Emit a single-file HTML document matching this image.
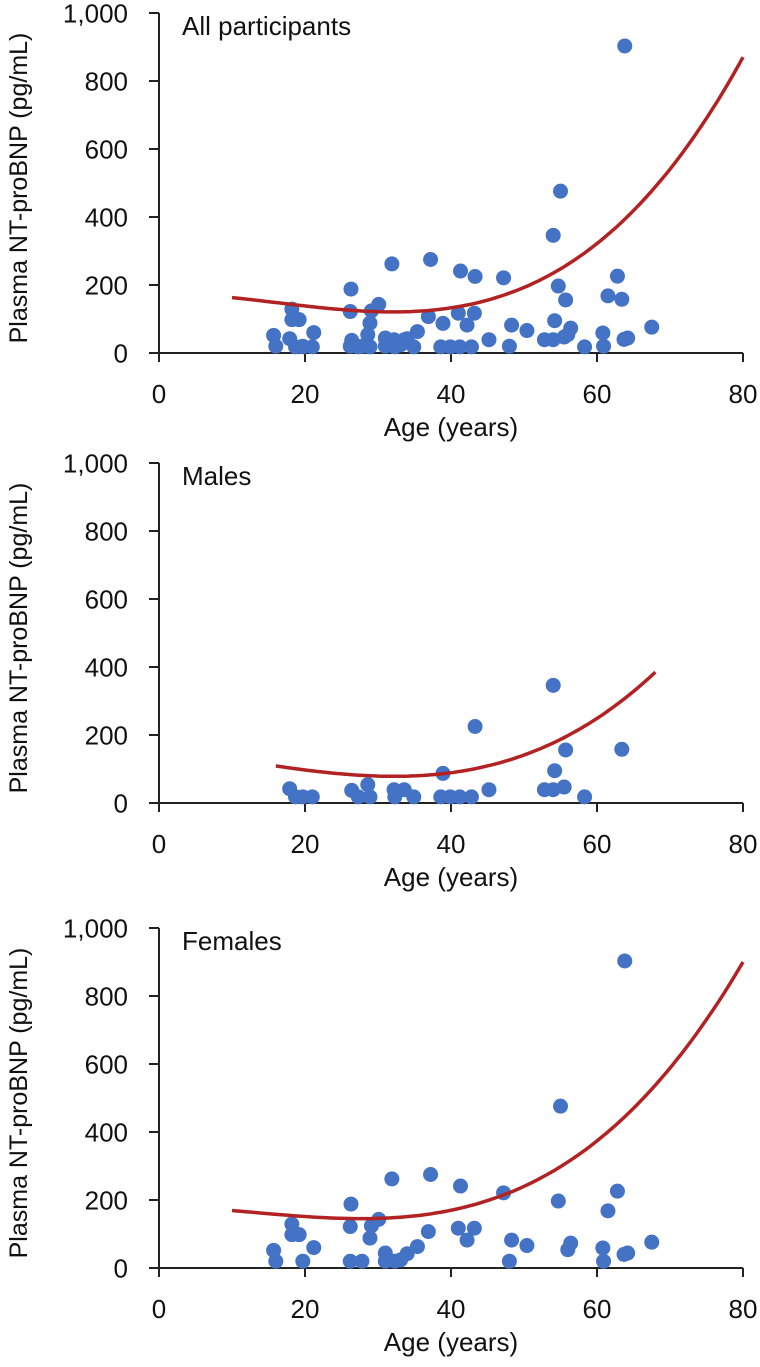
<!DOCTYPE html>
<html><head><meta charset="utf-8"><style>
body{margin:0;background:#fff;}
svg{display:block;font-family:"Liberation Sans",sans-serif;}
</style></head><body>
<svg id="chart" width="760" height="1367"></svg>
<script>
const yTicks=[0,200,400,600,800,1000];
const yTickLabels=["0","200","400","600","800","1,000"];
const xTicks=[0,20,40,60,80];
const maleAges=[17.9,18.7,19.7,21.0,26.4,27.3,28.6,28.9,32.2,32.3,33.6,34.9,38.9,38.6,39.9,41.2,42.8,45.2,52.8,54.0,54.0,54.2,55.5,55.7,58.3,63.4,43.3];
const maleVals=[42,18,18,18,37,18,54,18,39,18,39,18,87,18,18,18,18,39,39,39,346,95,47,156,18,158,225];
const femaleAges=[15.7,16.0,18.2,18.2,19.2,21.2,19.7,26.3,26.2,26.2,27.8,31.9,29.1,30.1,28.9,31.0,31.0,32.3,33.1,34.0,35.4,36.9,37.2,41.3,41.0,43.2,42.2,47.2,48.3,48.0,50.4,55.0,54.7,56.4,56.0,60.8,60.9,61.5,62.8,63.7,64.2,63.8,67.5];
const femaleVals=[52,20,129,98,98,60,20,188,122,20,20,262,124,143,88,44,20,20,24,42,63,107,275,241,117,117,82,221,82,20,66,476,197,73,54,59,20,168,226,40,44,903,76];
const allTrendAges=[10,26,54,80], allTrendVals=[163,126,235,870];
const maleTrendAges=[16,29,50,68], maleTrendVals=[109,80,141,385];
const femaleTrendAges=[10,21,55,80], femaleTrendVals=[169,150,298,900];

const NS="http://www.w3.org/2000/svg";
const svg=document.getElementById('chart');
function mk(tag,attrs,parent){const e=document.createElementNS(NS,tag);for(const k in attrs)e.setAttribute(k,attrs[k]);(parent||svg).appendChild(e);return e;}
function lagrange(xs,ys,x){let s=0;for(let i=0;i<xs.length;i++){let t=ys[i];for(let j=0;j<xs.length;j++)if(j!==i)t*=(x-xs[j])/(xs[i]-xs[j]);s+=t;}return s;}

function panel(name,label,base,ages,vals,tA,tV){
  const g=mk('g',{});
  
  
  const X0=159,X1=743,top=base-340;
  const xs=v=>X0+(X1-X0)*v/80, ys=v=>base-340*v/1000;
  const ax=mk('line',{x1:X0,y1:top,x2:X0,y2:base,stroke:'#222','stroke-width':2},g);
  
  const bx=mk('line',{x1:X0,y1:base,x2:X1,y2:base,stroke:'#222','stroke-width':2},g);
  
  yTicks.forEach((v,i)=>{
    mk('line',{x1:X0-10,y1:ys(v),x2:X0,y2:ys(v),stroke:'#222','stroke-width':2},g);
    const t=mk('text',{x:128,y:ys(v)+9.5,'text-anchor':'end','font-size':26,fill:'#111'},g);
    t.textContent=yTickLabels[i];
    
  });
  xTicks.forEach(v=>{
    mk('line',{x1:xs(v),y1:base,x2:xs(v),y2:base+9,stroke:'#222','stroke-width':2},g);
    const t=mk('text',{x:xs(v),y:base+50,'text-anchor':'middle','font-size':26,fill:'#111'},g);
    t.textContent=String(v);
    
  });
  const xt=mk('text',{x:451,y:base+83,'text-anchor':'middle','font-size':26,fill:'#111'},g);
  xt.textContent='Age (years)';
  
  const yt=mk('text',{x:0,y:0,'text-anchor':'middle','font-size':25,fill:'#111',transform:`translate(27,${base-165}) rotate(-90)`},g);
  yt.textContent='Plasma NT-proBNP (pg/mL)';
  
  const pt=mk('text',{x:182,y:top+22,'font-size':26,fill:'#111'},g);
  pt.textContent=label;
  
  ages.forEach((a,i)=>{
    const c=mk('circle',{cx:xs(a),cy:ys(vals[i]),r:7.5,fill:'#4472C4'},g);
    
    
  });
  let d='';const a0=tA[0],a1=tA[tA.length-1];
  for(let k=0;k<=100;k++){const a=a0+(a1-a0)*k/100;d+=(k?'L':'M')+xs(a).toFixed(1)+','+ys(lagrange(tA,tV,a)).toFixed(1);}
  const p=mk('path',{d:d,fill:'none',stroke:'#B22222','stroke-width':3.5},g);
  
  
}
panel('all','All participants',353,maleAges.concat(femaleAges),maleVals.concat(femaleVals),allTrendAges,allTrendVals);
panel('males','Males',803,maleAges,maleVals,maleTrendAges,maleTrendVals);
panel('females','Females',1268,femaleAges,femaleVals,femaleTrendAges,femaleTrendVals);
</script>
</body></html>
